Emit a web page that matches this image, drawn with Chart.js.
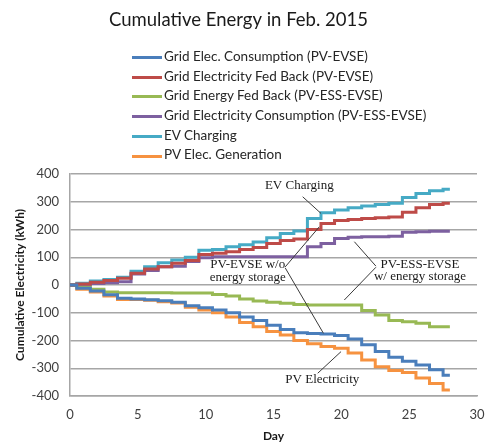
<!DOCTYPE html>
<html>
<head>
<meta charset="utf-8">
<script src="https://cdn.jsdelivr.net/npm/chart.js@4.4.1/dist/chart.umd.min.js"></script>
<style>
  html, body { margin: 0; padding: 0; background: #fff; }
  #wrap { position: relative; width: 487px; height: 443px; }
  #legend { position: absolute; left: 132px; top: 47px; font-family: Lato, sans-serif; font-size: 13.5px; color: #262626; }
  #legend div { height: 19.7px; line-height: 19.7px; white-space: nowrap; }
  #legend span { display: inline-block; width: 30px; height: 3px; vertical-align: middle; margin-right: 2px; }
</style>
</head>
<body>
<div id="wrap"><canvas id="c" width="487" height="443"></canvas><div id="legend"></div></div>
<script>
// Данные (кВт·ч, накопительно по дням)
const days = [0,1,2,3,4,5,6,7,8,9,10,11,12,13,14,15,16,17,18,19,20,21,22,23,24,25,26,27,28];
const gridConsPV   = [0,-12,-22,-35,-48,-50,-53,-57,-62,-75,-82,-90,-100,-115,-128,-145,-160,-172,-175,-177,-182,-195,-215,-240,-260,-275,-288,-305,-325];
const gridFedPV    = [0,4,10,16,24,42,58,66,78,88,110,114,120,128,135,150,160,166,200,222,232,236,240,242,245,262,278,290,295];
const gridFedESS   = [0,-8,-15,-25,-28,-28,-28,-28,-29,-29,-29,-34,-40,-50,-58,-62,-66,-70,-72,-72,-72,-72,-92,-108,-128,-132,-138,-150,-150];
const gridConsESS  = [0,2,5,8,12,40,52,66,68,85,98,102,102,102,102,102,102,102,138,150,168,172,174,174,176,190,192,194,194];
const evCharging   = [0,6,14,20,28,50,66,80,90,100,125,128,138,145,155,170,186,195,240,260,270,278,285,290,295,315,330,340,345];
const pvGeneration = [0,-15,-25,-40,-52,-52,-55,-60,-65,-80,-90,-100,-115,-135,-150,-168,-180,-200,-212,-222,-228,-245,-270,-295,-308,-315,-335,-355,-378];

const seriesNames = ['Grid Elec. Consumption (PV-EVSE)', 'Grid Electricity Fed Back (PV-EVSE)',
  'Grid Energy Fed Back (PV-ESS-EVSE)', 'Grid Electricity Consumption (PV-ESS-EVSE)',
  'EV Charging', 'PV Elec. Generation'];
const seriesData = [gridConsPV, gridFedPV, gridFedESS, gridConsESS, evCharging, pvGeneration];
const seriesColors = ['#4a7ebb', '#be4b48', '#98b954', '#7d60a0', '#46aac5', '#f69240'];

const xTicks = [0, 5, 10, 15, 20, 25, 30];
const yTicks = [-400, -300, -200, -100, 0, 100, 200, 300, 400];

// Подписи на графике
const noteLines = [['EV Charging'], ['PV-EVSE w/o', 'energy storage'], ['PV-ESS-EVSE', 'w/ energy storage'], ['PV Electricity']];
const noteDay = [16.9, 13.1, 25.8, 18.6];
const noteVal = [[360], [72, 27], [72, 29], [-342]];
const leaders = [
  [17.15, 318, 18.5, 258],
  [15.86, 65, 18.38, 210],
  [15.86, 62, 18.68, -174],
  [22.55, 68, 20.96, 156],
  [22.55, 64, 20.22, -54],
  [18.26, -318, 19.98, -240]
];

const notesPlugin = {
  id: 'notes',
  afterDatasetsDraw(chart) {
    const ctx = chart.ctx;
    const x = chart.scales.x, y = chart.scales.y;
    ctx.save();
    ctx.strokeStyle = '#3a3a3a';
    ctx.lineWidth = 1;
    leaders.forEach(l => {
      ctx.beginPath();
      ctx.moveTo(x.getPixelForValue(l[0]), y.getPixelForValue(l[1]));
      ctx.lineTo(x.getPixelForValue(l[2]), y.getPixelForValue(l[3]));
      ctx.stroke();
    });
    ctx.font = '13px "Liberation Serif", "Times New Roman", serif';
    ctx.fillStyle = '#1a1a1a';
    ctx.textAlign = 'center';
    ctx.textBaseline = 'middle';
    noteLines.forEach((lines, i) => {
      lines.forEach((t, j) => ctx.fillText(t, x.getPixelForValue(noteDay[i]), y.getPixelForValue(noteVal[i][j])));
    });
    ctx.restore();
  }
};

const canvas = document.getElementById('c');
const chart = new Chart(canvas.getContext('2d'), {
  type: 'line',
  data: {
    datasets: seriesData.map((vals, i) => ({
      label: seriesNames[i],
      data: vals.map((v, k) => ({x: days[k], y: v})),
      borderColor: seriesColors[i],
      backgroundColor: seriesColors[i],
      borderWidth: 3,
      pointRadius: 0,
      stepped: 'middle',
      fill: false
    }))
  },
  options: {
    responsive: false,
    animation: false,
    devicePixelRatio: 1,
    layout: { padding: { left: 0, right: 10, top: 0, bottom: 0 } },
    plugins: {
      legend: { display: false },
      tooltip: { enabled: false },
      title: {
        display: true,
        text: 'Cumulative Energy in Feb. 2015',
        color: '#1a1a1a',
        font: { family: 'Lato', size: 18.5, weight: 'normal', lineHeight: 1.2 },
        padding: { top: 9, bottom: 142.8 }
      }
    },
    scales: {
      x: {
        type: 'linear',
        min: 0, max: 30,
        afterBuildTicks: s => { s.ticks = xTicks.map(v => ({value: v})); },
        afterFit: s => { s.height = 47; s.paddingLeft = 0; s.paddingRight = 0; },
        grid: { display: false, drawTicks: false },
        border: { display: true, color: '#a6a6a6', width: 1.5 },
        ticks: { padding: 11, color: '#404040', font: { family: 'Lato', size: 13 }, maxRotation: 0 },
        title: { display: true, text: 'Day', color: '#1a1a1a', font: { family: 'Lato', size: 12, weight: 'bold' }, padding: { top: 0, bottom: 0 } }
      },
      y: {
        min: -400, max: 400,
        afterBuildTicks: s => { s.ticks = yTicks.map(v => ({value: v})); },
        afterFit: s => { s.width = 70; s.paddingTop = 0; s.paddingBottom = 0; },
        grid: { color: '#a6a6a6', lineWidth: 1.5, drawTicks: false },
        border: { display: true, color: '#a6a6a6', width: 1.5 },
        ticks: { padding: 11, color: '#404040', font: { family: 'Lato', size: 13 } },
        title: { display: true, text: 'Cumulative Electricity (kWh)', color: '#1a1a1a', font: { family: 'Lato', size: 12, weight: 'bold' }, padding: { top: 13, bottom: 0 } }
      }
    }
  },
  plugins: [notesPlugin]
});

// Легенда столбиком, как в исходнике
const legend = document.getElementById('legend');
chart.data.datasets.forEach(ds => {
  const row = document.createElement('div');
  const mark = document.createElement('span');
  mark.style.background = ds.borderColor;
  row.appendChild(mark);
  row.appendChild(document.createTextNode(ds.label));
  legend.appendChild(row);
});
</script>
</body>
</html>
